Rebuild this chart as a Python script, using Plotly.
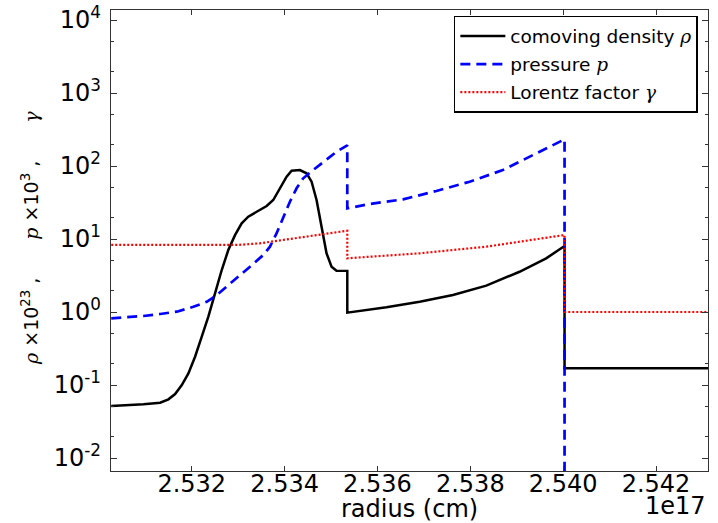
import plotly.graph_objects as go

# ---------------- data (radius in units of 1e17 cm) ----------------
rho_x = [2.530265, 2.530959, 2.531318, 2.531497, 2.531641, 2.531785, 2.531927,
         2.532071, 2.532215, 2.532357, 2.532501, 2.532645, 2.532787, 2.532931,
         2.533075, 2.533217, 2.533398, 2.533613, 2.533755, 2.533899, 2.534043,
         2.534151, 2.534329, 2.534473, 2.534581, 2.534688, 2.534796, 2.534903,
         2.535011, 2.535118, 2.53535, 2.53535, 2.536194, 2.536910, 2.537626,
         2.538344, 2.539060, 2.539634, 2.54003, 2.54003, 2.5432]
rho_y = [0.0515, 0.0544, 0.0573, 0.0637, 0.0753, 0.100, 0.144,
         0.244, 0.459, 0.863, 1.80, 3.76, 7.07, 11.3,
         16.4, 20.2, 23.6, 28.3, 34.2, 49.5, 71.4,
         86.3, 88.1, 79.4, 60.9, 34.2, 14.7, 6.37,
         4.18, 3.68, 3.66, 0.98, 1.16, 1.38, 1.71,
         2.30, 3.56, 5.43, 8.02, 0.169, 0.169]

p_x = [2.530265, 2.530959, 2.531318, 2.531677, 2.532034, 2.532323, 2.532538,
       2.532753, 2.532968, 2.533254, 2.533540, 2.533684, 2.533828, 2.533970,
       2.534114, 2.534258, 2.534400, 2.534615, 2.534903, 2.535118, 2.53535,
       2.53535, 2.535834, 2.536551, 2.537269, 2.537985, 2.538701, 2.539419,
       2.54003, 2.54003, 2.5432]
p_y = [0.819, 0.881, 0.939, 1.01, 1.18, 1.38, 1.71,
       2.22, 2.89, 4.18, 6.04, 7.85, 12.0, 20.2,
       32.4, 49.5, 67.8, 88.1, 121, 157, 192,
       26.3, 30.2, 34.9, 45.5, 60.9, 88.1, 149,
       232, 1e-6, 1e-6]

gam_x = [2.530265, 2.5315, 2.5325, 2.5330, 2.533469, 2.534185, 2.534903,
         2.53526, 2.53535, 2.53535, 2.536910, 2.538344, 2.54003, 2.54003, 2.5432]
gam_y = [8.3, 8.25, 8.22, 8.3, 8.73, 10.2, 12.0,
         12.9, 13.0, 5.44, 6.37, 7.85, 11.35, 1.0, 1.0]

x_ticks = [2.532, 2.534, 2.536, 2.538, 2.540, 2.542]
x_ticktext = ["2.532", "2.534", "2.536", "2.538", "2.540", "2.542"]
y_ticks = [1e-2, 1e-1, 1e0, 1e1, 1e2, 1e3, 1e4]
y_ticktext = ["10<sup>-2</sup>", "10<sup>-1</sup>", "10<sup>0</sup>", "10<sup>1</sup>",
              "10<sup>2</sup>", "10<sup>3</sup>", "10<sup>4</sup>"]

SERIF = "<span style=\"font-family:'DejaVu Serif'\"><i>%s</i></span>"
names = ["comoving density " + SERIF % "ρ",
         "pressure " + SERIF % "p",
         "Lorentz factor " + SERIF % "γ"]

fig = go.Figure()
fig.add_trace(go.Scatter(x=rho_x, y=rho_y, mode="lines", name=names[0],
                         line=dict(color="#000000", width=2.5), legendgroup="a"))
fig.add_trace(go.Scatter(x=p_x, y=p_y, mode="lines", name=names[1],
                         line=dict(color="#0000ff", width=2.7, dash="10px,6px"), legendgroup="b"))
fig.add_trace(go.Scatter(x=gam_x, y=gam_y, mode="lines", name=names[2],
                         line=dict(color="#ff0000", width=2.2, dash="2px,2px"), legendgroup="c"))

font_main = "DejaVu Sans"
fig.update_layout(
    width=718, height=523,
    margin=dict(l=111, r=10, t=10, b=52, autoexpand=False),
    paper_bgcolor="white", plot_bgcolor="white",
    font=dict(family=font_main, color="black", size=24),
    showlegend=True,
    legend=dict(x=0.983, y=0.987, xanchor="right", yanchor="top",
                bgcolor="white", bordercolor="black", borderwidth=1.5,
                font=dict(family=font_main, size=18.5), tracegroupgap=1,
                traceorder="grouped", itemwidth=45),
    xaxis=dict(range=[2.53026, 2.54312], tickvals=x_ticks, ticktext=x_ticktext,
               ticks="inside", ticklen=5, tickcolor="#333", mirror="ticks",
               showline=True, linecolor="#333", linewidth=1.3, showgrid=False,
               zeroline=False, tickfont=dict(size=24), automargin=False,
               ticklabelstandoff=-9, ticklabeloverflow="allow"),
    yaxis=dict(type="log", range=[-2.178, 4.137], tickvals=y_ticks, ticktext=y_ticktext,
               ticks="inside", ticklen=6, tickcolor="#333", mirror="ticks",
               showline=True, linecolor="#333", linewidth=1.3, showgrid=False,
               zeroline=False, tickfont=dict(size=24), automargin=False,
               ticklabelstandoff=4, ticklabeloverflow="allow",
               minor=dict(ticks="inside", ticklen=3, tickcolor="#333", showgrid=False)),
    annotations=[
        dict(text="radius (cm)", xref="paper", yref="paper", x=0.5, y=-0.0835,
             xanchor="center", yanchor="middle", showarrow=False, font=dict(size=24)),
        dict(text="1e17", xref="paper", yref="paper", x=1.0, y=-0.0759,
             xanchor="right", yanchor="middle", showarrow=False, font=dict(size=24)),
        dict(text=SERIF % "ρ" + " ×10<sup>23</sup> ,\u2003\u2003" + SERIF % "p"
             + " ×10<sup>3</sup> ,\u2003\u2003" + SERIF % "γ",
             xref="paper", yref="paper", x=-0.136, y=0.505, textangle=-90,
             xanchor="center", yanchor="middle", showarrow=False, font=dict(size=19)),
    ],
)

# remove the default 8px page margin so the 718x523 figure fills the window
fig.write_html("out.html", config={"displayModeBar": False},
               post_script="document.body.style.margin='0';document.body.style.overflow='hidden';")
